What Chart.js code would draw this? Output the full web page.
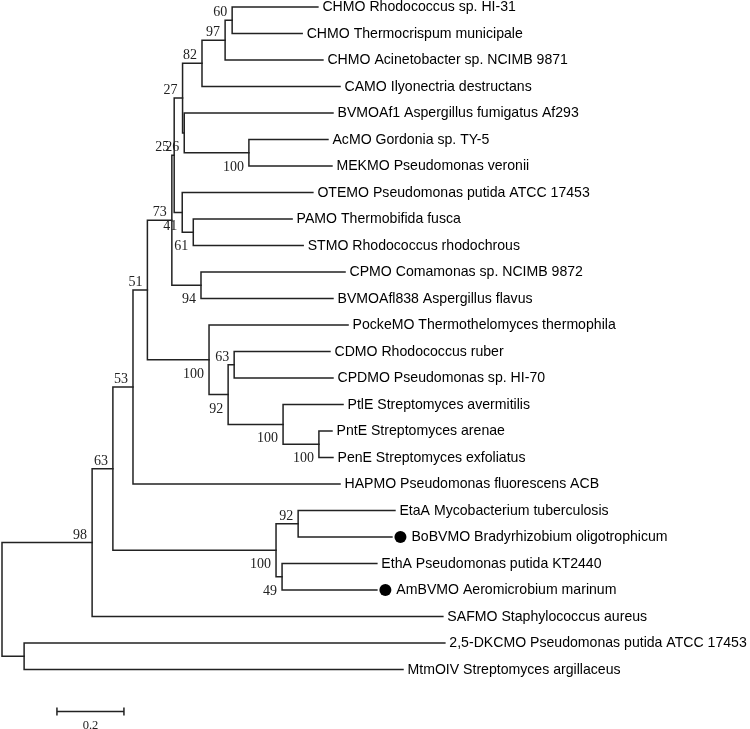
<!DOCTYPE html>
<html>
<head>
<meta charset="utf-8">
<script src="https://cdn.jsdelivr.net/npm/chart.js@4"></script>
<style>
  html, body { margin: 0; padding: 0; background: #fff; }
  #tree { display: block; }
</style>
</head>
<body>
<canvas id="tree" width="750" height="729"></canvas>
<script>
// leaves, top to bottom
var leafNames = [
  "CHMO Rhodococcus sp. HI-31",
  "CHMO Thermocrispum municipale",
  "CHMO Acinetobacter sp. NCIMB 9871",
  "CAMO Ilyonectria destructans",
  "BVMOAf1 Aspergillus fumigatus Af293",
  "AcMO Gordonia sp. TY-5",
  "MEKMO Pseudomonas veronii",
  "OTEMO Pseudomonas putida ATCC 17453",
  "PAMO Thermobifida fusca",
  "STMO Rhodococcus rhodochrous",
  "CPMO Comamonas sp. NCIMB 9872",
  "BVMOAfl838 Aspergillus flavus",
  "PockeMO Thermothelomyces thermophila",
  "CDMO Rhodococcus ruber",
  "CPDMO Pseudomonas sp. HI-70",
  "PtlE Streptomyces avermitilis",
  "PntE Streptomyces arenae",
  "PenE Streptomyces exfoliatus",
  "HAPMO Pseudomonas fluorescens ACB",
  "EtaA Mycobacterium tuberculosis",
  "BoBVMO Bradyrhizobium oligotrophicum",
  "EthA Pseudomonas putida KT2440",
  "AmBVMO Aeromicrobium marinum",
  "SAFMO Staphylococcus aureus",
  "2,5-DKCMO Pseudomonas putida ATCC 17453",
  "MtmOIV Streptomyces argillaceus"
];
// distance from root (substitutions per site)
var leafDepth = [
  0.943, 0.896, 0.958, 1.009, 0.988, 0.973, 0.985, 0.928, 0.866, 0.899,
  1.024, 0.988, 1.033, 0.979, 0.988, 1.018, 0.985, 0.988, 1.009, 1.173,
  1.164, 1.119, 1.119, 1.316, 1.322, 1.197
];
var markedLeaves = [20, 22];

// internal nodes; numbers are leaf indexes, strings are node ids
var nodeIds = ["A","B","C","D","E","F","G","H","I","J","K","M","N","O","P","Q","L","R","S","T","U","V","W","X","root"];
var nodeChildren = [
  [0, 1], ["A", 2], ["B", 3], [5, 6], [4, "D"], ["C", "E"], [8, 9], [7, "G"],
  ["F", "H"], [10, 11], ["I", "J"], [12, "Q"], [13, 14], [16, 17], [15, "O"],
  ["N", "P"], ["K", "M"], ["L", 18], [19, 20], [21, 22], ["S", "T"], ["R", "U"],
  ["V", 23], [24, 25], ["W", "X"]
];
var nodeDepth = [
  0.687, 0.666, 0.597, 0.737, 0.544, 0.539, 0.571, 0.538, 0.514, 0.594,
  0.507, 0.618, 0.693, 0.946, 0.839, 0.675, 0.434, 0.391, 0.884, 0.836,
  0.818, 0.331, 0.269, 0.066, 0
];
var bootstrap = [
  60, 97, 82, 100, 26, 27, 61, 41, 25, 94,
  73, 100, 63, 100, 100, 92, 51, 53, 92, 49,
  100, 63, 98, null, null
];
var bootstrapSide = [
  "up","up","up","down","down","up","down","down","up","down",
  "up","down","up","down","down","down","up","up","up","down",
  "down","up","up","up","up"
];
var scaleBarStart = 0.164;
var scaleBarLength = 0.2;

// positions of every node (leaf row = y, depth = x)
var pos = {};
function place(ref) {
  if (pos[ref]) return pos[ref];
  if (typeof ref === "number") {
    pos[ref] = { x: leafDepth[ref], y: ref };
  } else {
    var k = nodeIds.indexOf(ref);
    var a = place(nodeChildren[k][0]), b = place(nodeChildren[k][1]);
    pos[ref] = { x: nodeDepth[k], y: (a.y + b.y) / 2 };
  }
  return pos[ref];
}
place("root");

var datasets = nodeIds.map(function (id, k) {
  var a = pos[nodeChildren[k][0]], b = pos[nodeChildren[k][1]], x = nodeDepth[k];
  return {
    data: [{ x: a.x, y: a.y }, { x: x, y: a.y }, { x: x, y: b.y }, { x: b.x, y: b.y }],
    showLine: true,
    borderColor: "#222",
    borderWidth: 1.5,
    borderCapStyle: "square",
    borderJoinStyle: "miter",
    pointRadius: 0,
    tension: 0,
    clip: false
  };
});

var treeLabels = {
  id: "treeLabels",
  afterDraw: function (chart) {
    var ctx = chart.ctx, xs = chart.scales.x, ys = chart.scales.y;
    ctx.save();

    // leaf names
    ctx.fillStyle = "#000";
    ctx.font = "14.1px 'Liberation Sans', Arial, sans-serif";
    ctx.textBaseline = "middle";
    ctx.textAlign = "left";
    leafNames.forEach(function (name, i) {
      var px = xs.getPixelForValue(leafDepth[i]);
      var py = ys.getPixelForValue(i);
      if (markedLeaves.indexOf(i) >= 0) {
        ctx.beginPath();
        ctx.arc(px + 8.5, py, 6, 0, Math.PI * 2);
        ctx.fill();
        px += 15;
      }
      ctx.fillText(name, px + 4.5, py + 0.5);
    });

    // bootstrap values
    ctx.font = "14px 'Liberation Serif', 'Times New Roman', serif";
    ctx.fillStyle = "#222";
    ctx.textAlign = "right";
    ctx.textBaseline = "alphabetic";
    nodeIds.forEach(function (id, k) {
      if (bootstrap[k] == null) return;
      var px = xs.getPixelForValue(nodeDepth[k]);
      var py = ys.getPixelForValue(pos[id].y);
      var by = bootstrapSide[k] === "up" ? py - 4 : py + 18;
      ctx.fillText(String(bootstrap[k]), px - 5, by);
    });

    // scale bar
    var x0 = xs.getPixelForValue(scaleBarStart);
    var x1 = xs.getPixelForValue(scaleBarStart + scaleBarLength);
    var y = Math.round(ys.getPixelForValue(26.55)) + 0.5;
    ctx.strokeStyle = "#222";
    ctx.lineWidth = 1.5;
    ctx.beginPath();
    ctx.moveTo(x0, y); ctx.lineTo(x1, y);
    ctx.moveTo(x0, y - 4); ctx.lineTo(x0, y + 4);
    ctx.moveTo(x1, y - 4); ctx.lineTo(x1, y + 4);
    ctx.stroke();
    ctx.textAlign = "center";
    ctx.font = "12.5px 'Liberation Serif', 'Times New Roman', serif";
    ctx.fillText(String(scaleBarLength), (x0 + x1) / 2, y + 17);

    ctx.restore();
  }
};

new Chart(document.getElementById("tree"), {
  type: "scatter",
  data: { datasets: datasets },
  options: {
    responsive: false,
    animation: false,
    layout: { padding: { left: 2, top: 7, right: 0, bottom: 59.5 } },
    plugins: { legend: { display: false }, tooltip: { enabled: false } },
    scales: {
      x: { type: "linear", display: false, min: 0, max: 748 / 335 },
      y: { type: "linear", display: false, min: 0, max: 25, reverse: true }
    }
  },
  plugins: [treeLabels]
});
</script>
</body>
</html>
